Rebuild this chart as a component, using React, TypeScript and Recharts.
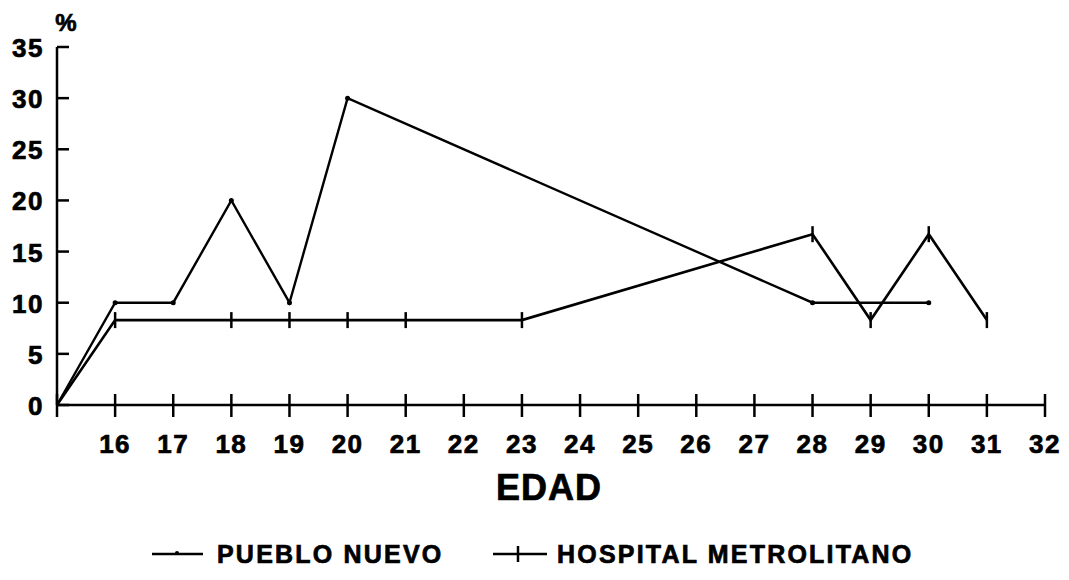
import React from "react";
import { LineChart, Line, XAxis, YAxis, Legend } from "recharts";

const edadTicks = [15, 16, 17, 18, 19, 20, 21, 22, 23, 24, 25, 26, 27, 28, 29, 30, 31, 32];
const pctTicks = [0, 5, 10, 15, 20, 25, 30, 35];

const puebloEdad = [15, 16, 17, 18, 19, 20, 28, 30];
const puebloPct = [0, 10, 10, 20, 10, 30, 10, 10];

const hospitalEdad = [15, 16, 18, 19, 20, 21, 23, 28, 29, 30, 31];
const hospitalPct = [0, 8.3, 8.3, 8.3, 8.3, 8.3, 8.3, 16.7, 8.3, 16.7, 8.3];

const FONT = '"Liberation Sans", Arial, sans-serif';

const puebloData = puebloEdad.map((edad, i) => ({ edad, pct: puebloPct[i] }));
const hospitalData = hospitalEdad.map((edad, i) => ({ edad, pct: hospitalPct[i] }));

// heavier look, the scanned labels are very bold
const boldText = {
  fontFamily: FONT,
  fontWeight: "bold" as const,
  fill: "#000",
  stroke: "#000",
  strokeWidth: 0.7,
};

function XTick(props: any) {
  const { x, y, payload } = props;
  return (
    <g>
      <line x1={x} x2={x} y1={y - 11} y2={y + 12} stroke="#000" strokeWidth={2.5} />
      {payload.value !== 15 && (
        <text x={x} y={y + 48} textAnchor="middle" fontSize={26} letterSpacing={1.5} {...boldText}>
          {payload.value}
        </text>
      )}
    </g>
  );
}

function YTick(props: any) {
  const { x, y, payload } = props;
  return (
    <g>
      <line x1={x} x2={x + 12} y1={y} y2={y} stroke="#000" strokeWidth={2.5} />
      <text x={x - 13} y={y + 10} textAnchor="end" fontSize={26} letterSpacing={1.5} {...boldText}>
        {payload.value}
      </text>
    </g>
  );
}

function PuebloDot(props: any) {
  const { cx, cy, payload } = props;
  if (payload.edad === 15) return null;
  return <circle key={`p-${payload.edad}`} cx={cx} cy={cy} r={2.5} fill="#000" />;
}

function HospitalDot(props: any) {
  const { cx, cy, payload } = props;
  if (payload.edad === 15) return null;
  return (
    <line
      key={`h-${payload.edad}`}
      x1={cx}
      x2={cx}
      y1={cy - 8}
      y2={cy + 8}
      stroke="#000"
      strokeWidth={2.5}
    />
  );
}

function LegendBox() {
  return (
    <svg width={1069} height={40}>
      <line x1={152} x2={203} y1={22} y2={22} stroke="#000" strokeWidth={2.5} />
      <circle cx={177} cy={21} r={2} fill="#000" />
      <text x={217} y={31} fontSize={25} letterSpacing={2.2} {...boldText}>
        PUEBLO NUEVO
      </text>
      <line x1={493} x2={547} y1={22} y2={22} stroke="#000" strokeWidth={2.5} />
      <line x1={518} x2={518} y1={14} y2={30} stroke="#000" strokeWidth={2.5} />
      <text x={557} y={31} fontSize={25} letterSpacing={2.2} {...boldText}>
        HOSPITAL METROLITANO
      </text>
    </svg>
  );
}

export default function App() {
  return (
    <div style={{ position: "absolute", left: 0, top: 0, background: "#fff" }}>
      <LineChart
        width={1069}
        height={580}
        margin={{ top: 47, right: 24, bottom: 0, left: 0 }}
      >
        <XAxis
          dataKey="edad"
          type="number"
          domain={[15, 32]}
          ticks={edadTicks}
          interval={0}
          height={175}
          tickSize={0}
          tickMargin={0}
          tickLine={false}
          axisLine={{ stroke: "#000", strokeWidth: 2.5 }}
          tick={<XTick />}
          label={{
            value: "EDAD",
            content: (p: any) => {
              const vb = p.viewBox || {};
              return (
                <text
                  x={vb.x + vb.width / 2 - 2}
                  y={vb.y + 95}
                  textAnchor="middle"
                  fontSize={36}
                  letterSpacing={1}
                  {...boldText}
                >
                  EDAD
                </text>
              );
            },
          }}
        />
        <YAxis
          type="number"
          domain={[0, 35]}
          ticks={pctTicks}
          interval={0}
          width={57}
          tickSize={0}
          tickMargin={0}
          tickLine={false}
          axisLine={{ stroke: "#000", strokeWidth: 2.5 }}
          tick={<YTick />}
          label={{
            value: "%",
            content: () => (
              <text x={66} y={31} textAnchor="middle" fontSize={24} {...boldText}>
                %
              </text>
            ),
          }}
        />
        <Legend
          layout="horizontal"
          verticalAlign="middle"
          align="center"
          wrapperStyle={{ top: 532, left: 0, width: 1069, height: 40 }}
          content={() => <LegendBox />}
        />
        <Line
          data={puebloData}
          dataKey="pct"
          name="PUEBLO NUEVO"
          stroke="#000"
          strokeWidth={2.4}
          dot={<PuebloDot />}
          activeDot={false}
          isAnimationActive={false}
        />
        <Line
          data={hospitalData}
          dataKey="pct"
          name="HOSPITAL METROLITANO"
          stroke="#000"
          strokeWidth={2.6}
          dot={<HospitalDot />}
          activeDot={false}
          isAnimationActive={false}
        />
      </LineChart>
    </div>
  );
}
